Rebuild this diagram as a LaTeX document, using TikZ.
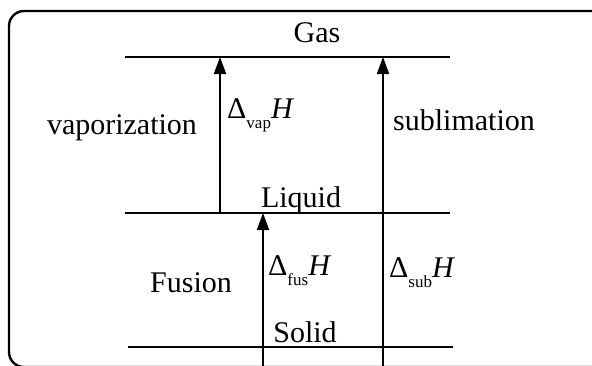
\documentclass[tikz,border=0pt]{standalone}
\usepackage{fontspec}
\setmainfont{Liberation Serif}
\usetikzlibrary{arrows.meta}
\newcommand{\enth}[1]{Δ\raisebox{-10pt}{\fontsize{17}{17}\selectfont #1}\textit{H}}

\begin{document}
\begin{tikzpicture}[x=1pt, y=-1pt,
  level/.style={line width=2.6pt},
  jump/.style={line width=1.9pt, -{Triangle[length=17pt,width=12pt]}},
  lbl/.style={inner sep=0pt, anchor=base, font=\fontsize{30}{34}\selectfont}]
\useasboundingbox (0,0) rectangle (592,365);
\clip (0,0) rectangle (592,365);
% frame, cut off at right and bottom
\draw[line width=2.4pt, rounded corners=15pt] (620,11) -- (9,11) -- (9,367) -- (620,367);

% energy levels
\coordinate (gasL) at (125,57);
\coordinate (gasR) at (450,57);
\coordinate (liqL) at (125,213);
\coordinate (liqR) at (450,213);
\coordinate (solL) at (128,347);
\coordinate (solR) at (453,347);
\draw[level] (gasL) -- (gasR);
\draw[level] (liqL) -- (liqR);
\draw[level] (solL) -- (solR);

% transitions
\coordinate (vapB) at (220,213);
\coordinate (fusB) at (263,372);
\coordinate (subB) at (383,372);
\draw[jump] (vapB) -- (vapB |- gasL);
\draw[jump] (fusB) -- (fusB |- liqL);
\draw[jump] (subB) -- (subB |- gasL);

% labels
\node[lbl] (gas) at (317,42) {Gas};
\node[lbl] (liquid) at (301,207) {Liquid};
\node[lbl] (solid) at (305,342) {Solid};
\node[lbl] (vaporization) at (122,134) {vaporization};
\node[lbl] (sublimation) at (464,130) {sublimation};
\node[lbl] (fusion) at (191,292) {Fusion};
\node[lbl, anchor=base west] (dvap) at (227,118) {\enth{vap}};
\node[lbl, anchor=base west] (dfus) at (268,275) {\enth{fus}};
\node[lbl, anchor=base west] (dsub) at (389,277) {\enth{sub}};
\end{tikzpicture}
\end{document}
